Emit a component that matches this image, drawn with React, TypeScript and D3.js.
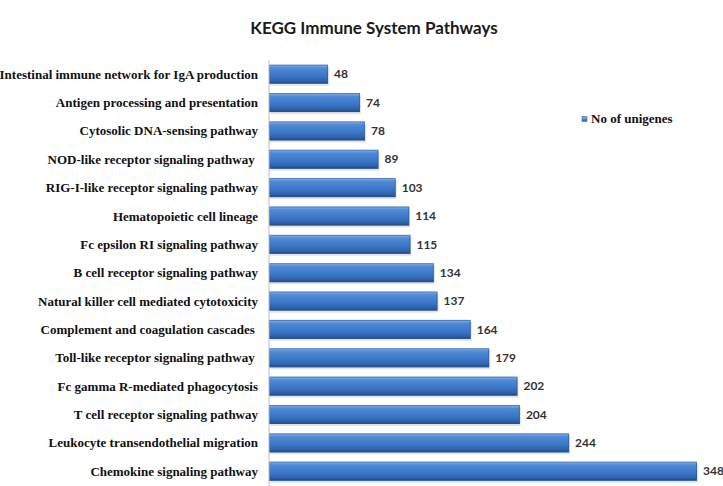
import { scaleBand, scaleLinear } from "d3";

const pathways = [
  "Intestinal immune network for IgA production",
  "Antigen processing and presentation",
  "Cytosolic DNA-sensing pathway",
  "NOD-like receptor signaling pathway ",
  "RIG-I-like receptor signaling pathway",
  "Hematopoietic cell lineage",
  "Fc epsilon RI signaling pathway",
  "B cell receptor signaling pathway",
  "Natural killer cell mediated cytotoxicity",
  "Complement and coagulation cascades ",
  "Toll-like receptor signaling pathway ",
  "Fc gamma R-mediated phagocytosis",
  "T cell receptor signaling pathway",
  "Leukocyte transendothelial migration",
  "Chemokine signaling pathway",
];
const unigenes = [48, 74, 78, 89, 103, 114, 115, 134, 137, 164, 179, 202, 204, 244, 348];
const seriesName = "No of unigenes";

const W = 723;
const H = 486;
const axisX = 269;

const App = () => {
  const y = scaleBand()
    .domain(pathways)
    .range([60, 485.4])
    .paddingInner(0.33)
    .paddingOuter(0.165);

  const x = scaleLinear().domain([0, 348]).range([axisX, 697]);

  const bw = y.bandwidth();

  return (
    <svg width={W} height={H} style={{ position: "absolute", left: 0, top: 0, background: "#fff" }}>
      <defs>
        <linearGradient id="barFill" x1="0" y1="0" x2="0" y2="1">
          <stop offset="0" stopColor="#8cb6ea" />
          <stop offset="0.18" stopColor="#4f8ad6" />
          <stop offset="0.6" stopColor="#3a76c6" />
          <stop offset="0.85" stopColor="#2d62ab" />
          <stop offset="1" stopColor="#1d467f" />
        </linearGradient>
        <linearGradient id="legFill" x1="0" y1="0" x2="0" y2="1">
          <stop offset="0" stopColor="#8cb6ea" />
          <stop offset="1" stopColor="#2d62ab" />
        </linearGradient>
      </defs>

      <text
        x={374}
        y={34}
        textAnchor="middle"
        fontFamily="Lato, 'Open Sans', sans-serif"
        fontWeight="bold"
        fontSize={17}
        fill="#1a1a1a"
      >
        KEGG Immune System Pathways
      </text>

      {pathways.map((p, i) => {
        const y0 = y(p)!;
        const v = unigenes[i];
        return (
          <g key={p}>
            <rect x={axisX + 1} y={y0 + 2} width={x(v) - axisX} height={bw} fill="#c8c8c8" opacity={0.5} />
            <rect x={axisX} y={y0} width={x(v) - axisX} height={bw} fill="url(#barFill)" />
            <rect
              x={axisX + 0.5}
              y={y0 + 0.5}
              width={x(v) - axisX - 1}
              height={bw - 1}
              fill="none"
              stroke="#2a5c9e"
              strokeOpacity={0.6}
            />
            <text
              x={258}
              y={y0 + bw / 2}
              dy="0.35em"
              textAnchor="end"
              fontFamily="'Liberation Serif', 'Times New Roman', serif"
              fontWeight="bold"
              fontSize={13}
              fill="#111"
              style={{ whiteSpace: "pre" }}
            >
              {p}
            </text>
            <text
              x={x(v) + 6}
              y={y0 + bw / 2}
              dy="0.35em"
              fontFamily="Lato, 'Open Sans', sans-serif"
              fontWeight="bold"
              fontSize={12}
              fill="#333"
            >
              {v}
            </text>
          </g>
        );
      })}

      <line x1={axisX} x2={axisX} y1={60} y2={486} stroke="#bbb" strokeWidth={1} />

      <rect x={582} y={116.5} width={5} height={5} fill="url(#legFill)" stroke="#2a5c9e" strokeWidth={0.5} />
      <text
        x={591}
        y={123}
        fontFamily="'Liberation Serif', 'Times New Roman', serif"
        fontWeight="bold"
        fontSize={13}
        fill="#111"
      >
        {seriesName}
      </text>
    </svg>
  );
};

export default App;
